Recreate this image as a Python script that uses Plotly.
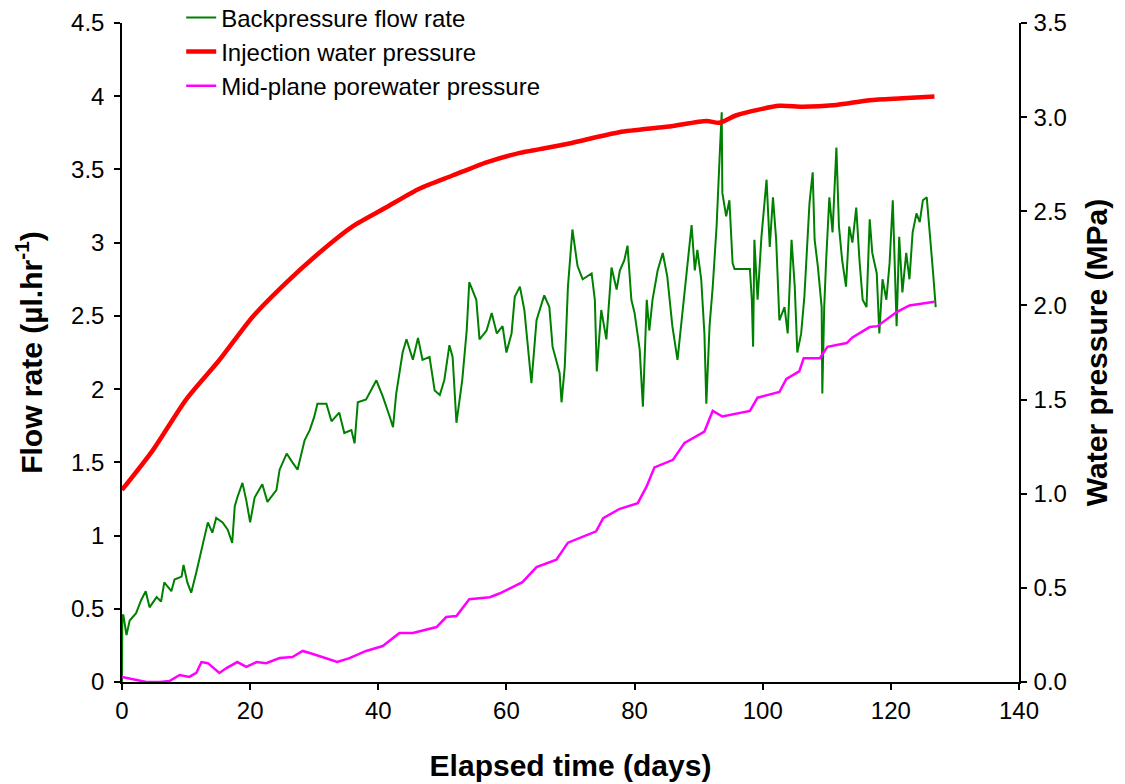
import plotly.graph_objects as go

# Backpressure flow rate (µl/hr) against elapsed time (days)
flow_days = [
    0.0, 0.05, 0.2, 0.7, 1.2, 2.2, 3.0, 3.7, 4.3, 5.4, 6.1, 6.6, 7.7, 8.2, 9.3, 9.6,
    10.2, 10.8, 11.6, 12.4, 13.4, 14.1, 14.7, 15.7, 16.5, 17.2, 17.6, 18.0, 18.8,
    19.4, 20.0, 20.7, 21.9, 22.7, 23.5, 24.1, 24.6, 25.7, 26.6, 27.4, 28.5, 29.3,
    30.0, 30.5, 31.9, 32.7, 33.9, 34.7, 35.8, 36.3, 36.8, 38.1, 39.7, 40.7, 41.8,
    42.3, 42.8, 43.8, 44.4, 45.4, 46.2, 46.9, 48.0, 48.8, 49.6, 50.3, 51.1, 51.6,
    52.2, 52.7, 53.1, 53.8, 54.2, 55.3, 55.8, 56.9, 57.7, 58.5, 59.4, 60.0, 60.8,
    61.3, 62.1, 62.8, 63.9, 64.7, 65.9, 66.7, 67.2, 68.3, 68.6, 69.1, 69.6, 70.3,
    71.1, 71.9, 73.3, 73.8, 74.1, 74.8, 75.6, 76.4, 77.2, 77.7, 78.4, 78.9, 79.5,
    80.0, 80.8, 81.3, 81.9, 82.3, 82.8, 83.6, 84.4, 85.1, 85.9, 86.7, 87.5, 88.3,
    88.9, 89.4, 89.8, 90.4, 90.9, 91.2, 91.7, 92.2, 92.8, 93.3, 93.6, 93.7, 94.3,
    94.8, 95.1, 95.3, 95.6, 98.0, 98.3, 98.5, 98.7, 99.2, 99.8, 100.6, 101.1, 101.6,
    102.1, 102.6, 103.4, 103.9, 104.5, 105.0, 105.4, 106.0, 106.5, 107.3, 107.8,
    108.1, 108.6, 109.2, 109.3, 109.6, 109.9, 110.4, 110.9, 111.5, 111.9, 112.4,
    113.0, 113.5, 114.0, 114.6, 115.1, 115.6, 116.2, 116.7, 117.1, 117.8, 118.2,
    118.7, 119.3, 119.8, 120.3, 120.9, 121.3, 121.8, 122.4, 122.9, 123.4, 124.0,
    124.5, 125.0, 125.6, 126.1, 126.6, 127.0,
]
flow_rate = [
    0.0, 0.45, 0.46, 0.32, 0.42, 0.47, 0.56, 0.62, 0.51, 0.58, 0.55, 0.68, 0.62, 0.70, 0.72, 0.80,
    0.68, 0.61, 0.75, 0.90, 1.09, 1.02, 1.12, 1.09, 1.04, 0.95, 1.20, 1.26, 1.36,
    1.24, 1.09, 1.26, 1.35, 1.23, 1.28, 1.31, 1.45, 1.56, 1.50, 1.45, 1.65, 1.72,
    1.81, 1.90, 1.90, 1.78, 1.84, 1.70, 1.72, 1.63, 1.91, 1.93, 2.06, 1.95, 1.81,
    1.74, 1.97, 2.25, 2.34, 2.20, 2.35, 2.20, 2.22, 1.99, 1.96, 2.06, 2.30, 2.22,
    1.77, 1.93, 2.06, 2.40, 2.73, 2.61, 2.34, 2.40, 2.52, 2.38, 2.43, 2.25, 2.38,
    2.63, 2.70, 2.54, 2.04, 2.47, 2.64, 2.56, 2.29, 2.11, 1.91, 2.15, 2.70, 3.09,
    2.84, 2.75, 2.79, 2.61, 2.12, 2.54, 2.34, 2.83, 2.68, 2.81, 2.88, 2.98, 2.61,
    2.52, 2.27, 1.88, 2.61, 2.40, 2.61, 2.81, 2.93, 2.77, 2.43, 2.20, 2.52, 2.84,
    3.12, 2.81, 2.95, 2.75, 2.38, 1.90, 2.43, 2.70, 3.11, 3.61, 3.89, 3.34, 3.18,
    3.29, 3.07, 2.86, 2.82, 2.82, 2.61, 2.29, 3.02, 2.61, 3.04, 3.43, 2.97, 3.31,
    3.02, 2.47, 2.56, 2.38, 3.02, 2.70, 2.25, 2.38, 2.63, 3.27, 3.48,
    3.02, 2.84, 2.56, 1.97, 2.56, 2.88, 3.31, 3.07, 3.65, 3.11, 2.88,
    2.70, 3.11, 3.00, 3.24, 2.88, 2.61, 2.56, 3.16, 2.93, 2.79, 2.38,
    2.75, 2.61, 2.86, 3.29, 2.43, 3.04, 2.66, 2.93, 2.75, 3.07, 3.20,
    3.14, 3.29, 3.31, 3.07, 2.79, 2.56,
]

# Injection water pressure (MPa)
inj_days = [0.0, 4.8, 10.0, 15.2, 20.4, 25.6, 30.8, 36.0, 41.2, 46.4, 51.6, 56.9,
            62.1, 65.2, 69.8, 77.6, 85.4, 91.2, 93.2, 95.9, 102.6, 106.2, 111.5,
            116.7, 121.8, 126.8]
inj_pressure = [1.02, 1.23, 1.50, 1.71, 1.94, 2.12, 2.28, 2.42, 2.52, 2.62, 2.69, 2.76,
                2.81, 2.83, 2.86, 2.92, 2.95, 2.98, 2.97, 3.01, 3.06, 3.055, 3.065,
                3.09, 3.10, 3.11]

# Mid-plane porewater pressure (MPa)
pore_days = [0.0, 1.6, 3.8, 5.9, 7.4, 9.0, 10.5, 11.6, 12.4, 13.4, 15.2, 16.3, 18.0,
             19.4, 21.0, 22.5, 24.6, 26.6, 28.2, 29.8, 31.3, 33.6, 35.5, 38.1, 40.7,
             42.3, 43.3, 45.4, 47.5, 49.1, 50.6, 52.2, 54.2, 57.4, 58.9, 62.5, 64.7,
             67.8, 69.6, 74.0, 75.1, 77.7, 80.5, 81.9, 83.1, 86.0, 87.8, 90.9, 92.2,
             93.7, 98.0, 99.2, 102.6, 103.7, 105.7, 106.4, 108.9, 110.1, 113.1, 114.0,
             116.7, 117.9, 120.9, 122.9, 126.8]
pore_pressure = [0.027, 0.016, 0.0, 0.0, 0.005, 0.037, 0.027, 0.048, 0.106, 0.10, 0.048,
                 0.074, 0.106, 0.08, 0.106, 0.10, 0.127, 0.133, 0.165, 0.149, 0.133,
                 0.106, 0.127, 0.165, 0.191, 0.234, 0.260, 0.260, 0.276, 0.292, 0.345,
                 0.35, 0.44, 0.45, 0.47, 0.53, 0.61, 0.65, 0.74, 0.80, 0.87, 0.92, 0.95,
                 1.04, 1.14, 1.18, 1.27, 1.33, 1.44, 1.41, 1.44, 1.51, 1.54, 1.61, 1.65,
                 1.72, 1.72, 1.78, 1.80, 1.83, 1.885, 1.89, 1.965, 2.00, 2.02]

x_ticks = [0, 20, 40, 60, 80, 100, 120, 140]
left_ticks = [0, 0.5, 1, 1.5, 2, 2.5, 3, 3.5, 4, 4.5]
right_ticks = [0.0, 0.5, 1.0, 1.5, 2.0, 2.5, 3.0, 3.5]

FONT = "Arial, Liberation Sans, sans-serif"
TICK_SIZE = 24
LEGEND_SIZE = 24
TITLE_SIZE = 30

fig = go.Figure()
fig.add_trace(go.Scatter(
    x=flow_days, y=flow_rate, mode="lines", name="Backpressure flow rate",
    line=dict(color="#008000", width=2), legendgroup="a", yaxis="y",
))
fig.add_trace(go.Scatter(
    x=inj_days, y=inj_pressure, mode="lines", name="Injection water pressure",
    line=dict(color="#FF0000", width=4.5, shape="spline", smoothing=0.7),
    legendgroup="b", yaxis="y2",
))
fig.add_trace(go.Scatter(
    x=pore_days, y=pore_pressure, mode="lines", name="Mid-plane porewater pressure",
    line=dict(color="#FF00FF", width=2.5), legendgroup="c", yaxis="y2",
))

axis_common = dict(
    showgrid=False, zeroline=False, showline=True, linecolor="black", linewidth=1.5,
    ticks="outside", ticklen=6, tickwidth=1.5, tickcolor="black",
    tickfont=dict(family=FONT, size=TICK_SIZE, color="black"),
)

fig.update_layout(
    width=1125, height=784, autosize=False,
    margin=dict(l=122, r=106, t=23, b=102, autoexpand=False),
    paper_bgcolor="white", plot_bgcolor="white",
    font=dict(family=FONT, color="black"),
    xaxis=dict(
        range=[0, 140], tickvals=x_ticks, **axis_common,
        title=dict(text="<b>Elapsed time (days)</b>",
                   font=dict(family=FONT, size=TITLE_SIZE), standoff=32),
    ),
    yaxis=dict(
        range=[0, 4.5], tickvals=left_ticks, ticklabelstandoff=5, **axis_common,
        title=dict(text="<b>Flow rate (µl.hr<sup>-1</sup>)</b>",
                   font=dict(family=FONT, size=TITLE_SIZE), standoff=20),
    ),
    yaxis2=dict(
        range=[0, 3.5], tickvals=right_ticks, tickformat=".1f", overlaying="y",
        side="right", ticklabelstandoff=2, **axis_common,
        title=dict(text="<b>Water pressure (MPa)</b>",
                   font=dict(family=FONT, size=TITLE_SIZE), standoff=20),
    ),
    legend=dict(
        x=0.066, y=1.042, xanchor="left", yanchor="top",
        bgcolor="rgba(0,0,0,0)", font=dict(family=FONT, size=LEGEND_SIZE),
        tracegroupgap=3, traceorder="normal",
    ),
    showlegend=True,
)

fig.write_html("out.html")
